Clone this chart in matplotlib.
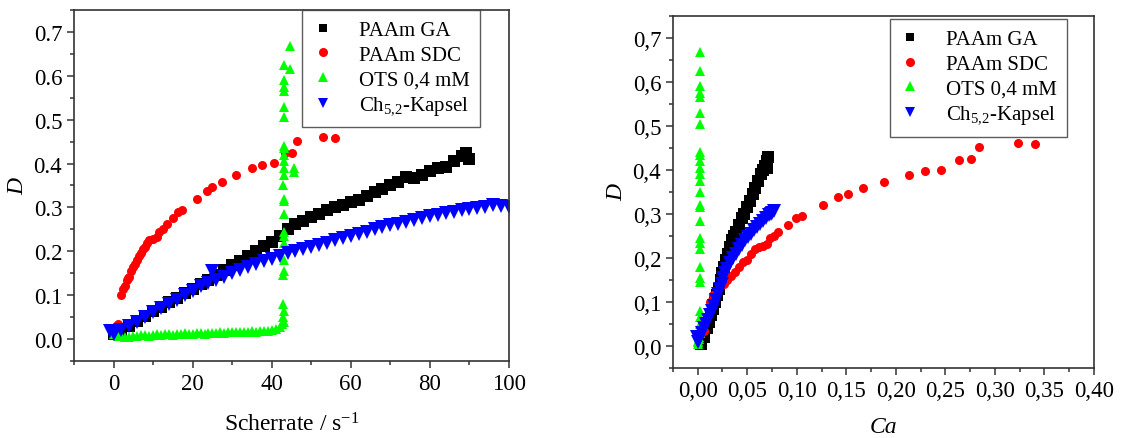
import matplotlib
matplotlib.use("Agg")
import matplotlib.pyplot as plt
from matplotlib.ticker import MultipleLocator, FuncFormatter

plt.rcParams['font.family'] = ['Liberation Serif', 'DejaVu Serif']
plt.rcParams['mathtext.fontset'] = 'custom'
plt.rcParams['mathtext.rm'] = 'Liberation Serif'
plt.rcParams['mathtext.it'] = 'Liberation Serif:italic'

# -------------------------
# Data
# -------------------------
labels = ["PAAm GA", "PAAm SDC", "OTS 0,4 mM", r"Ch$_{\mathrm{5{,}2}}$-Kapsel"]
colors = ["#000000", "#ff0000", "#00ff00", "#0000ff"]
markers = ["s", "o", "^", "v"]

# left panel: D vs shear rate
ga_rate = [0, 2, 4, 6, 8, 10, 12, 14, 16, 18, 20, 22, 24, 26, 28, 30, 32, 34, 36, 38,
           40, 42, 44, 46, 48, 50, 52, 54, 56, 58, 60, 62, 64, 66, 68, 70, 72, 74, 76, 78,
           80, 82, 84, 86, 88, 89, 90]
ga_D = [0.012, 0.020, 0.030, 0.042, 0.052, 0.063, 0.073, 0.084, 0.094, 0.104, 0.114, 0.125,
        0.135, 0.146, 0.157, 0.168, 0.178, 0.190, 0.200, 0.211, 0.222, 0.235, 0.250, 0.262,
        0.270, 0.278, 0.285, 0.293, 0.300, 0.306, 0.313, 0.318, 0.327, 0.335, 0.342, 0.350,
        0.358, 0.370, 0.368, 0.374, 0.383, 0.390, 0.392, 0.405, 0.418, 0.425, 0.410]

sdc_rate = [0.5, 1.0, 2.0, 2.5, 3.0, 3.3, 3.6, 4.0, 4.5, 5.0, 5.5, 6.0, 6.5, 7.0, 7.5, 8.0,
            8.5, 9.0, 10.0, 11.0, 11.5, 12.5, 13.5, 15.0, 16.3, 17.3, 21.0, 23.5, 25.0, 27.5,
            31.0, 35.0, 37.5, 40.5, 43.3, 45.0, 46.5, 53.0, 56.0]
sdc_D = [0.030, 0.035, 0.100, 0.115, 0.120, 0.135, 0.140, 0.142, 0.155, 0.165, 0.170, 0.180,
         0.190, 0.195, 0.205, 0.210, 0.220, 0.225, 0.228, 0.232, 0.245, 0.250, 0.262, 0.275,
         0.290, 0.295, 0.320, 0.338, 0.346, 0.358, 0.373, 0.389, 0.397, 0.401, 0.423, 0.424,
         0.452, 0.461, 0.459]

ots_rate = [0, 1, 2, 3, 4, 5, 6, 7, 8, 9, 10, 11, 12, 13, 14, 15, 16, 17, 18, 19, 20, 21,
            22, 23, 24, 25, 26, 27, 28, 29, 30, 31, 32, 33, 34, 35, 36, 37, 38, 39, 40, 41,
            42, 42.5,
            43.0, 42.9, 43.0, 42.9, 42.8, 43.0, 43.1, 43.0, 43.2, 43.1, 43.0, 43.1, 43.0,
            42.9, 43.0, 43.1, 43.0, 43.1, 43.0, 43.2, 43.1, 43.0, 43.1, 43.0, 43.0, 43.1,
            44.5, 44.5, 45.5, 45.5]
ots_D = [0.012, 0.008, 0.006, 0.004, 0.005, 0.008, 0.007, 0.009, 0.010, 0.008, 0.010, 0.011,
         0.009, 0.012, 0.011, 0.010, 0.012, 0.011, 0.013, 0.012, 0.012, 0.013, 0.013, 0.012,
         0.014, 0.013, 0.014, 0.015, 0.014, 0.015, 0.016, 0.015, 0.016, 0.017, 0.016, 0.018,
         0.017, 0.018, 0.019, 0.018, 0.020, 0.022, 0.028, 0.035,
         0.040, 0.050, 0.065, 0.080, 0.145, 0.155, 0.180, 0.220, 0.235, 0.245, 0.285, 0.315,
         0.320, 0.350, 0.375, 0.390, 0.405, 0.420, 0.435, 0.440, 0.505, 0.530, 0.565, 0.575,
         0.590, 0.625,
         0.668, 0.615, 0.390, 0.380]

kap_rate = [-1, 0, 2, 4, 6, 8, 10, 12, 14, 16, 18, 20, 22, 24, 25, 26, 28, 30, 32, 34, 36,
            38, 40, 42, 44, 46, 48, 50, 52, 54, 56, 58, 60, 62, 64, 66, 68, 70, 72, 74, 76,
            78, 80, 82, 84, 86, 88, 90, 92, 94, 96, 98, 100]
kap_D = [0.018, 0.012, 0.020, 0.030, 0.040, 0.050, 0.062, 0.070, 0.080, 0.090, 0.100, 0.110,
         0.120, 0.127, 0.155, 0.135, 0.142, 0.150, 0.158, 0.165, 0.170, 0.177, 0.183, 0.190,
         0.195, 0.200, 0.205, 0.210, 0.215, 0.220, 0.225, 0.230, 0.235, 0.240, 0.245, 0.250,
         0.255, 0.260, 0.263, 0.267, 0.271, 0.275, 0.280, 0.283, 0.287, 0.290, 0.293, 0.296,
         0.299, 0.302, 0.305, 0.304, 0.302]

# right panel: D vs capillary number
ga_ca = [0.003, 0.006, 0.009, 0.011, 0.013, 0.015, 0.017, 0.019, 0.021, 0.023, 0.025, 0.027,
         0.029, 0.031, 0.033, 0.035, 0.037, 0.039, 0.042, 0.045, 0.047, 0.050, 0.053, 0.056,
         0.058, 0.061, 0.064, 0.066, 0.068, 0.070, 0.071, 0.070]
ga_D2 = [0.005, 0.020, 0.040, 0.055, 0.070, 0.085, 0.100, 0.115, 0.130, 0.150, 0.165, 0.180,
         0.195, 0.210, 0.225, 0.240, 0.250, 0.260, 0.275, 0.290, 0.300, 0.315, 0.330, 0.345,
         0.360, 0.375, 0.390, 0.400, 0.410, 0.420, 0.430, 0.405]

sdc_ca = [0.003, 0.006, 0.012, 0.015, 0.018, 0.021, 0.024, 0.027, 0.030, 0.034, 0.038, 0.042,
          0.046, 0.050, 0.054, 0.058, 0.062, 0.066, 0.070, 0.073, 0.077, 0.081, 0.091, 0.099,
          0.105, 0.126, 0.142, 0.152, 0.167, 0.188, 0.213, 0.229, 0.246, 0.264, 0.276, 0.284,
          0.323, 0.340]
sdc_D2 = [0.030, 0.035, 0.100, 0.115, 0.120, 0.135, 0.140, 0.142, 0.150, 0.160, 0.168, 0.180,
          0.190, 0.195, 0.210, 0.220, 0.225, 0.228, 0.232, 0.245, 0.250, 0.260, 0.274, 0.290,
          0.295, 0.320, 0.338, 0.346, 0.358, 0.373, 0.389, 0.397, 0.401, 0.423, 0.424, 0.452,
          0.461, 0.459]

ots_ca = [0.000, 0.000, 0.0005, 0.001, 0.0015, 0.002, 0.002, 0.002, 0.002, 0.002, 0.002,
          0.002, 0.002, 0.002, 0.002, 0.002, 0.002, 0.002, 0.002, 0.002, 0.002, 0.002, 0.002,
          0.002, 0.002, 0.002, 0.002, 0.002, 0.002, 0.002, 0.002, 0.002, 0.002]
ots_D2 = [0.005, 0.012, 0.008, 0.015, 0.020, 0.030, 0.040, 0.050, 0.065, 0.080, 0.145, 0.155,
          0.180, 0.220, 0.235, 0.245, 0.285, 0.315, 0.320, 0.350, 0.375, 0.390, 0.405, 0.420,
          0.435, 0.440, 0.505, 0.530, 0.565, 0.575, 0.590, 0.625, 0.668]

kap_ca = [-0.001, 0.000, 0.002, 0.004, 0.006, 0.008, 0.010, 0.012, 0.014, 0.016, 0.018,
          0.020, 0.022, 0.024, 0.026, 0.028, 0.030, 0.033, 0.036, 0.039, 0.042, 0.045, 0.048,
          0.051, 0.054, 0.057, 0.060, 0.063, 0.066, 0.069, 0.072, 0.075, 0.077, 0.074]
kap_D2 = [0.020, 0.010, 0.020, 0.030, 0.040, 0.050, 0.060, 0.070, 0.080, 0.092, 0.105, 0.118,
          0.130, 0.142, 0.155, 0.165, 0.175, 0.188, 0.200, 0.210, 0.220, 0.230, 0.240, 0.248,
          0.255, 0.263, 0.270, 0.278, 0.285, 0.292, 0.298, 0.303, 0.306, 0.300]

left_data = [(ga_rate, ga_D), (sdc_rate, sdc_D), (ots_rate, ots_D), (kap_rate, kap_D)]
right_data = [(ga_ca, ga_D2), (sdc_ca, sdc_D2), (ots_ca, ots_D2), (kap_ca, kap_D2)]
sizes = [8.5, 6.5, 7.5, 9.5]
legend_sizes = [6, 6.5, 7, 7]

# -------------------------
# Figure
# -------------------------
fig = plt.figure(figsize=(11.41, 4.39), dpi=100)
ax1 = fig.add_axes([0.0649, 0.1754, 0.3812, 0.7996])
ax2 = fig.add_axes([0.5898, 0.1595, 0.3690, 0.8018])


def style_axis(ax):
    for sp in ax.spines.values():
        sp.set_linewidth(1.2)
        sp.set_color("#333333")
    ax.tick_params(which="both", direction="out", top=False, right=False,
                   labelsize=16.5, color="#333333", width=1.1)
    ax.tick_params(which="major", length=5)
    ax.tick_params(which="minor", length=3)
    ax.yaxis.set_major_locator(MultipleLocator(0.1))
    ax.yaxis.set_minor_locator(MultipleLocator(0.05))
    ax.set_ylim(-0.05, 0.75)


for ax, data in [(ax1, left_data), (ax2, right_data)]:
    for (x, y), lab, c, m, s in zip(data, labels, colors, markers, sizes):
        ax.plot(x, y, linestyle="none", marker=m, color=c, markersize=s,
                markeredgewidth=0, label=lab)
    style_axis(ax)
    leg = ax.legend(loc="upper right", fontsize=15, frameon=True, fancybox=False,
                    edgecolor="#333333", labelspacing=0.25, handlelength=1.0,
                    handletextpad=1.2, borderpad=0.5, borderaxespad=0)
    leg.get_frame().set_linewidth(1.0)
    for h, s in zip(leg.legend_handles, legend_sizes):
        h.set_markersize(s)

# left panel
ax1.set_xlim(-10, 100)
ax1.xaxis.set_major_locator(MultipleLocator(20))
ax1.xaxis.set_minor_locator(MultipleLocator(10))
ax1.yaxis.set_major_formatter(FuncFormatter(lambda v, p: f"{v:.1f}"))
ax1.set_xlabel(r"Scherrate / s$^{\mathrm{-1}}$", fontsize=17, labelpad=13)
ax1.set_ylabel("D", fontsize=17, style="italic", labelpad=4)
ax1.get_legend().set_bbox_to_anchor((0.933, 1.0))

# right panel
ax2.set_xlim(-0.025, 0.40)
ax2.xaxis.set_major_locator(MultipleLocator(0.05))
ax2.xaxis.set_minor_locator(MultipleLocator(0.025))
ax2.xaxis.set_major_formatter(FuncFormatter(lambda v, p: f"{v:.2f}".replace(".", ",")))
ax2.yaxis.set_major_formatter(FuncFormatter(lambda v, p: f"{v:.1f}".replace(".", ",")))
ax2.set_xlabel("Ca", fontsize=17, style="italic", labelpad=11)
ax2.set_ylabel("D", fontsize=17, style="italic", labelpad=4)
ax2.get_legend().set_bbox_to_anchor((0.936, 0.991))

fig.savefig("out.png", dpi=100)
